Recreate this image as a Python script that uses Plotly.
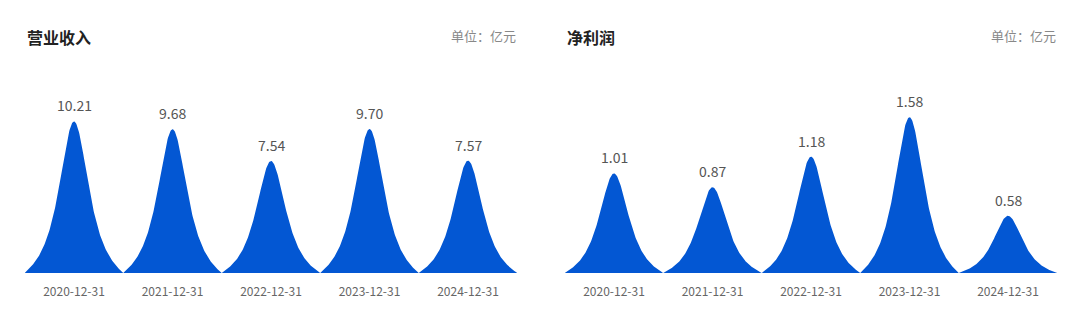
import numpy as np
import plotly.graph_objects as go

# ---- data ----
dates = ["2020-12-31", "2021-12-31", "2022-12-31", "2023-12-31", "2024-12-31"]
revenue = [10.21, 9.68, 7.54, 9.70, 7.57]       # 营业收入 (亿元)
net_profit = [1.01, 0.87, 1.18, 1.58, 0.58]     # 净利润 (亿元)
value_labels_rev = ["10.21", "9.68", "7.54", "9.70", "7.57"]
value_labels_np = ["1.01", "0.87", "1.18", "1.58", "0.58"]

# ---- style ----
W, H = 1080, 310
BLUE = "#0357d3"
FONT = "Noto Sans CJK SC"
base_px, top_px = 273, 80
y_dom = [(H - base_px) / H, (H - top_px) / H]
rev_range = [0, (base_px - top_px) / 14.85]
np_range = [0, (base_px - top_px) / 98.6]

# spike profile (sech shaped, pulled to zero at the category edge)
b = 0.26
s = np.linspace(0, 1, 201)
t = np.abs(2 * s - 1)
s1 = 1 / np.cosh(1 / b)
prof = 1 / np.cosh(t / b) - s1 * t ** 3

fig = go.Figure()


def add_panel(values, labels, xa, ya):
    for i, v in enumerate(values):
        xs = np.concatenate([i - 0.5 + s, [i - 0.5]])
        ys = np.concatenate([v * prof, [0]])
        fig.add_trace(go.Scatter(
            x=xs, y=ys, mode="lines", fill="toself", fillcolor=BLUE,
            line=dict(width=0, color=BLUE), hoverinfo="skip",
            showlegend=False, xaxis=xa, yaxis=ya))
        fig.add_annotation(
            x=i, y=v, xref=xa, yref=ya, text=labels[i], showarrow=False,
            yanchor="bottom", yshift=4,
            font=dict(family=FONT, size=14, color="#555555"))


add_panel(revenue, value_labels_rev, "x", "y")
add_panel(net_profit, value_labels_np, "x2", "y2")

xcommon = dict(range=[-0.5, 4.5], tickvals=list(range(5)), ticktext=dates,
               showgrid=False, zeroline=False, showline=False, ticks="",
               tickfont=dict(family=FONT, size=12, color="#666666"),
               ticklabelstandoff=10, fixedrange=True)
ycommon = dict(showgrid=False, zeroline=False, showline=False,
               showticklabels=False, ticks="", domain=y_dom, fixedrange=True)

left_dom = [24.75 / W, 517.25 / W]
right_dom = [564.75 / W, 1057.25 / W]

fig.update_layout(
    width=W, height=H,
    margin=dict(l=0, r=0, t=0, b=0),
    paper_bgcolor="white", plot_bgcolor="white",
    xaxis=dict(domain=left_dom, anchor="y", **xcommon),
    yaxis=dict(range=rev_range, anchor="x", **ycommon),
    xaxis2=dict(domain=right_dom, anchor="y2", **xcommon),
    yaxis2=dict(range=np_range, anchor="x2", **ycommon),
    font=dict(family=FONT),
)

# titles and units
for x0, x1, title in [(25, 518, "营业收入"), (565, 1058, "净利润")]:
    fig.add_annotation(x=x0 / W, y=1 - 37 / H, xref="paper", yref="paper",
                       text="<b>" + title + "</b>", showarrow=False,
                       xanchor="left", yanchor="middle",
                       font=dict(family=FONT, size=16, color="#222222"))
    fig.add_annotation(x=x1 / W, y=1 - 35 / H, xref="paper", yref="paper",
                       text="单位：亿元", showarrow=False,
                       xanchor="right", yanchor="middle",
                       font=dict(family=FONT, size=13, color="#888888"))

fig.write_html("out.html")
